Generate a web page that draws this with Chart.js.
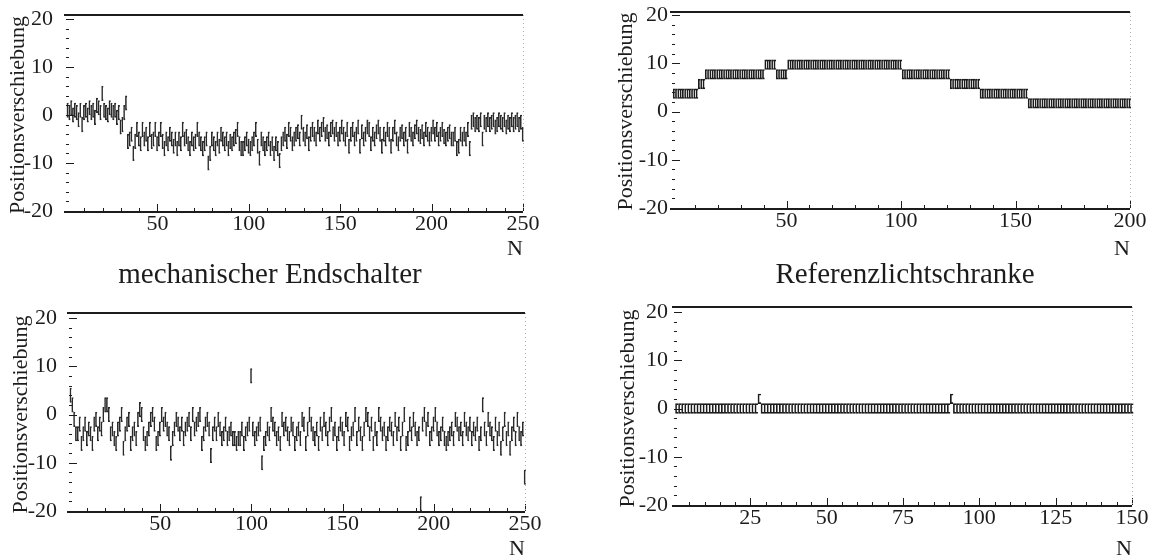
<!DOCTYPE html>
<html>
<head>
<meta charset="utf-8">
<script src="https://cdn.jsdelivr.net/npm/chart.js@4.4.1/dist/chart.umd.min.js"></script>
<style>
  body { margin: 0; background: #fff; width: 1152px; height: 558px; position: relative; overflow: hidden; }
  canvas { position: absolute; }
  .cap { position: absolute; font-family: "Liberation Serif", serif; font-size: 29px; line-height: 1; color: #1c1c1c; transform: translateX(-50%); white-space: nowrap; }
</style>
</head>
<body>
<canvas id="endschalter" width="576" height="262" style="left:0;top:0"></canvas>
<canvas id="lichtschranke" width="552" height="262" style="left:600px;top:0"></canvas>
<canvas id="unten-links" width="576" height="272" style="left:0;top:290px"></canvas>
<canvas id="unten-rechts" width="552" height="272" style="left:600px;top:290px"></canvas>
<div class="cap" style="left:270px;top:259px">mechanischer Endschalter</div>
<div class="cap" style="left:905px;top:259px">Referenzlichtschranke</div>
<script>
const endschalterValues = [
  1, 0.5, 1.5, 0, 1, 0.5, -1, 1, -2, 0.5, 1, 0, 1.5, 0.5, 1, -0.5, 2, 1.5, 0.5, 4.5, 1, 0.5, 0, 1.5, 1,
  0.5, 1, -0.5, 0.5, -2.5, -2, 0.5, 2.5, -5.5, -5, -4, -8, -5.5, -3, -5, -6, -3, -5, -4, -6, -3, -5.5, -5, -3, -6,
  -5, -3, -5.5, -7, -5, -6, -4, -5, -6.5, -5, -7, -5, -6, -3, -5, -4.5, -6, -7, -5, -6, -5.5, -3, -5, -6, -7,
  -6, -5, -10, -8, -5, -6, -7, -5, -6.5, -4, -5, -6, -5, -7, -5.5, -6, -5, -4.5, -3, -6, -7, -7, -6, -5, -6.5,
  -7, -6, -5, -3, -6.5, -9, -5, -6, -7, -6, -5, -7, -6, -8, -6, -7, -9.5, -6, -5, -4, -5.5, -3, -4, -6, -5,
  -4, -3.5, -5, -1.5, -4, -5, -3.5, -6, -4, -3, -4, -5, -2.5, -4, -3, -2, -4, -3.5, -5, -3, -2.5, -4, -3, -5, -4,
  -2.5, -4, -5, -3, -6.5, -4, -3, -5, -4, -2.5, -6.5, -3.5, -5, -4, -2.5, -3, -6, -4, -5, -3.5, -2.5, -4, -6.5, -4, -5,
  -3, -4, -6.5, -4, -2.5, -5, -6, -4, -3.5, -5, -4, -6.5, -3, -4, -5, -3.5, -2.5, -4, -4.5, -3.5, -5, -3, -4, -5, -4,
  -2.5, -4, -3, -5, -4, -3, -4.5, -5, -4, -3.5, -5, -5, -4, -7, -6.5, -4, -5, -4, -5, -3, -7, -1.5, -1, -2, -1.5,
  -2, -1, -5, -1.5, -2, -1, -2, -1.5, -1, -2.5, -2, -1, -1.5, -2, -1, -2.5, -1.5, -2, -1, -2, -1.5, -1, -2, -1.5, -4
];

const lichtschrankeValues = [
  3.7, 3.7, 3.7, 3.7, 3.7, 3.7, 3.7, 3.7, 3.7, 3.7,
  3.7, 5.7, 5.7, 5.7, 7.7, 7.7, 7.7, 7.7, 7.7, 7.7,
  7.7, 7.7, 7.7, 7.7, 7.7, 7.7, 7.7, 7.7, 7.7, 7.7,
  7.7, 7.7, 7.7, 7.7, 7.7, 7.7, 7.7, 7.7, 7.7, 7.7,
  9.7, 9.7, 9.7, 9.7, 9.7, 7.7, 7.7, 7.7, 7.7, 7.7,
  9.7, 9.7, 9.7, 9.7, 9.7, 9.7, 9.7, 9.7, 9.7, 9.7,
  9.7, 9.7, 9.7, 9.7, 9.7, 9.7, 9.7, 9.7, 9.7, 9.7,
  9.7, 9.7, 9.7, 9.7, 9.7, 9.7, 9.7, 9.7, 9.7, 9.7,
  9.7, 9.7, 9.7, 9.7, 9.7, 9.7, 9.7, 9.7, 9.7, 9.7,
  9.7, 9.7, 9.7, 9.7, 9.7, 9.7, 9.7, 9.7, 9.7, 9.7,
  7.7, 7.7, 7.7, 7.7, 7.7, 7.7, 7.7, 7.7, 7.7, 7.7,
  7.7, 7.7, 7.7, 7.7, 7.7, 7.7, 7.7, 7.7, 7.7, 7.7,
  7.7, 5.7, 5.7, 5.7, 5.7, 5.7, 5.7, 5.7, 5.7, 5.7,
  5.7, 5.7, 5.7, 5.7, 3.7, 3.7, 3.7, 3.7, 3.7, 3.7,
  3.7, 3.7, 3.7, 3.7, 3.7, 3.7, 3.7, 3.7, 3.7, 3.7,
  3.7, 3.7, 3.7, 3.7, 3.7, 1.7, 1.7, 1.7, 1.7, 1.7,
  1.7, 1.7, 1.7, 1.7, 1.7, 1.7, 1.7, 1.7, 1.7, 1.7,
  1.7, 1.7, 1.7, 1.7, 1.7, 1.7, 1.7, 1.7, 1.7, 1.7,
  1.7, 1.7, 1.7, 1.7, 1.7, 1.7, 1.7, 1.7, 1.7, 1.7,
  1.7, 1.7, 1.7, 1.7, 1.7, 1.7, 1.7, 1.7, 1.7, 1.7
];

const untenLinksValues = [
  4, 2, -1, -4, -4, -2, -6, -4, -2, -5, -3, -4, -6, -2, -1, -4, -2, -3, 0, 2, 2, 0, -4, -3, -5,
  -6, -3, -2, 0, -7, -4, -2, -1, -6, -4, -3, -5, -1, 1, 0, -4, -6, -5, -3, -1, 0, -2, -6, -5, -3,
  0, -2, -1, -3, -4, -8, -5, -3, -1, -2, -4, -2, -5, -3, -2, -1, -4, 0, -3, -2, -1, 0, -6, -4, -2,
  -1, -3, -8.5, -4, -2, -4, -1, -3, -5, -4, -2, -5, -4, -3, -5, -5, -6, -5, -5, -3, -6, -4, -3, -2, 8,
  -3, -5, -4, -3, -2, -10, -6, -5, -3, -4, 0, -2, -3, -5, -4, -6, -1, -3, -2, -4, -5, -2, -3, -6, -4,
  -3, -5, -1, -2, -6, -3, 0, -2, -4, -5, -3, -6, -2, -4, -1, -3, -5, -2, 0, -4, -3, -6, -4, -2, -3,
  -5, -1, -2, -6, -4, -3, 0, -5, -2, -4, -6, -3, 0, -1, -4, -2, -6, -3, -5, 0, -2, -4, -3, -6, -4,
  -2, -3, -5, -1, -4, -2, -6, -3, 0, -6, -5, -2, -4, -1, -3, -5, -4, -18.5, -2, 0, -3, -1, -5, -4, -2,
  0, -3, -5, -4, -2, -5, -6, -5, -4, -3, -5, -1, -2, -4, -3, -5, -1, -3, -4, -2, -5, -3, -4, -2, -6,
  -4, 2, -3, -5, -1, -3, -4, -6, -2, -5, -3, -7, -4, -1, -5, -3, -7, -4, -2, -5, -1, -4, -5, -3, -13
];

const untenRechtsValues = [
  0, 0, 0, 0, 0, 0, 0, 0, 0, 0,
  0, 0, 0, 0, 0, 0, 0, 0, 0, 0,
  0, 0, 0, 0, 0, 0, 0, 2, 0, 0,
  0, 0, 0, 0, 0, 0, 0, 0, 0, 0,
  0, 0, 0, 0, 0, 0, 0, 0, 0, 0,
  0, 0, 0, 0, 0, 0, 0, 0, 0, 0,
  0, 0, 0, 0, 0, 0, 0, 0, 0, 0,
  0, 0, 0, 0, 0, 0, 0, 0, 0, 0,
  0, 0, 0, 0, 0, 0, 0, 0, 0, 0,
  2, 0, 0, 0, 0, 0, 0, 0, 0, 0,
  0, 0, 0, 0, 0, 0, 0, 0, 0, 0,
  0, 0, 0, 0, 0, 0, 0, 0, 0, 0,
  0, 0, 0, 0, 0, 0, 0, 0, 0, 0,
  0, 0, 0, 0, 0, 0, 0, 0, 0, 0,
  0, 0, 0, 0, 0, 0, 0, 0, 0, 0
];

// half height of the error boxes
const endschalterErr = 1.5;
const lichtschrankeErr = 1;
const untenLinksErr = 1.5;
const untenRechtsErr = 1;

const yTitle = "Positionsverschiebung";
const xTitle = "N";

const FONT = '"Liberation Serif", "DejaVu Serif", serif';
const INK = "#1c1c1c";

// inward tick marks, heavy top/bottom rules, dotted right edge
const frameTicks = {
  id: "frameTicks",
  afterDatasetsDraw(chart, args, o) {
    const { ctx, chartArea: a } = chart;
    const x = chart.scales.x, y = chart.scales.y;
    const top = a.top - o.topGap;
    ctx.save();
    ctx.strokeStyle = INK;
    ctx.lineWidth = 2;
    ctx.beginPath();
    ctx.moveTo(a.left - 2, top); ctx.lineTo(a.right, top);
    ctx.moveTo(a.left - 2, a.bottom + 1); ctx.lineTo(a.right, a.bottom + 1);
    ctx.stroke();

    ctx.lineWidth = 1;
    ctx.beginPath();
    for (let v = y.min; v <= y.max; v += 2) {
      const py = Math.round(y.getPixelForValue(v)) + 0.5;
      const len = v % 10 === 0 ? 8 : 3;
      ctx.moveTo(a.left, py); ctx.lineTo(a.left + len, py);
    }
    for (let v = x.min + o.xMinor; v <= x.max; v += o.xMinor) {
      const px = Math.round(x.getPixelForValue(v)) + 0.5;
      const len = v % o.xMajor === 0 ? 7 : 3;
      ctx.moveTo(px, a.bottom); ctx.lineTo(px, a.bottom - len);
    }
    ctx.stroke();

    ctx.strokeStyle = "#b0b0b0";
    ctx.setLineDash([1, 3]);
    ctx.beginPath();
    ctx.moveTo(a.right + 0.5, top); ctx.lineTo(a.right + 0.5, a.bottom);
    ctx.stroke();
    ctx.restore();
  }
};

function makePanel(id, values, err, p) {
  const datasets = [{
    type: "bar",
    data: values.map((v, i) => ({ x: i + 1, y: [v - err, v + err] })),
    backgroundColor: "rgba(255,255,255,0)",
    borderColor: p.ink,
    borderWidth: { top: 1, bottom: 1, left: 1, right: 0 },
    borderSkipped: false,
    barPercentage: 1,
    categoryPercentage: 1
  }];

  new Chart(document.getElementById(id), {
    type: "bar",
    data: { datasets },
    plugins: [frameTicks],
    options: {
      responsive: false,
      animation: false,
      events: [],
      clip: false,
      layout: { padding: { top: p.top, right: p.right, left: 0, bottom: 0 } },
      plugins: {
        legend: { display: false },
        tooltip: { enabled: false },
        frameTicks: { xMinor: p.xMinor, xMajor: p.xStep, topGap: p.topGap }
      },
      scales: {
        x: {
          type: "linear",
          min: 0,
          max: p.xMax,
          offset: false,
          grid: { display: false, drawTicks: false },
          border: { display: false },
          ticks: {
            stepSize: p.xStep,
            autoSkip: false,
            maxRotation: 0,
            padding: 0,
            color: INK,
            font: { family: FONT, size: 22 },
            callback: (v) => (v === 0 ? "" : v)
          },
          title: {
            display: true,
            text: xTitle,
            align: "end",
            color: INK,
            padding: 0,
            font: { family: FONT, size: 22 }
          },
          afterFit: (s) => { s.height = p.xHeight; }
        },
        y: {
          min: -20,
          max: 20,
          grid: { display: false, drawTicks: false },
          border: { display: false },
          ticks: {
            stepSize: 10,
            padding: p.labelPad,
            color: INK,
            font: { family: FONT, size: 22, lineHeight: 0.3 }
          },
          title: {
            display: true,
            text: yTitle,
            color: INK,
            padding: { top: p.titlePad, bottom: 0 },
            font: { family: FONT, size: 22 }
          },
          afterFit: (s) => { s.width = p.yWidth; }
        }
      }
    }
  });
}

makePanel("endschalter", endschalterValues, endschalterErr,
  { xMax: 250, xStep: 50, xMinor: 10, yWidth: 66, xHeight: 51, top: 19, topGap: 4, right: 53, labelPad: 13, titlePad: 5, ink: "#2a2a2a" });
makePanel("lichtschranke", lichtschrankeValues, lichtschrankeErr,
  { xMax: 200, xStep: 50, xMinor: 10, yWidth: 72, xHeight: 54, top: 15, topGap: 3, right: 22, labelPad: 4, titlePad: 13, ink: INK });
makePanel("unten-links", untenLinksValues, untenLinksErr,
  { xMax: 250, xStep: 50, xMinor: 10, yWidth: 69, xHeight: 51, top: 28, topGap: 5, right: 51, labelPad: 12, titlePad: 8, ink: "#2a2a2a" });
makePanel("unten-rechts", untenRechtsValues, untenRechtsErr,
  { xMax: 150, xStep: 25, xMinor: 5, yWidth: 74, xHeight: 57, top: 22, topGap: 5, right: 20, labelPad: 6, titlePad: 15, ink: INK });
</script>
</body>
</html>
